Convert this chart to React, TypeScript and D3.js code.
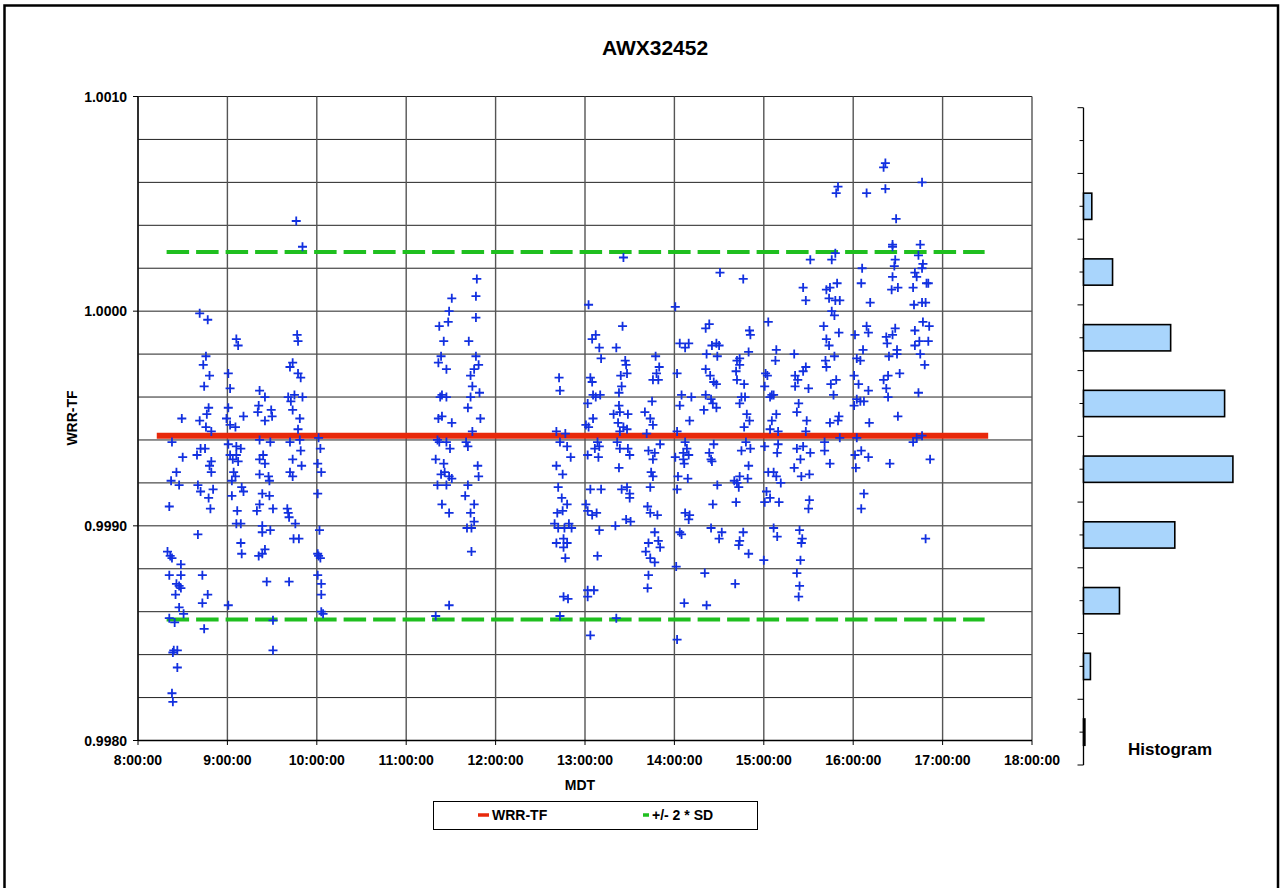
import React from "react";
import * as d3 from "d3";

// ---- Data -----------------------------------------------------------------
// Measurement times (decimal hours, MDT) and WRR-TF ratios, one pair of arrays per session.
const morningTimes = [
  8.35, 8.43, 8.37, 8.46, 8.67, 8.33, 8.36, 8.38, 8.48, 8.35, 8.48, 8.43, 8.46, 8.48, 8.42, 8.46,
  8.51, 8.35, 8.41, 8.40, 8.44, 8.39, 8.44, 8.38, 8.39, 8.72, 8.78, 8.72, 8.74, 9.01, 9.15, 9.16,
  9.35, 9.39, 9.42, 9.44, 9.69, 9.51, 9.51, 10.02, 10.01, 10.04, 10.01, 10.05, 10.05, 10.05, 10.07,
  10.03, 10.01, 8.82, 8.67, 8.70, 8.84, 8.79, 8.81, 9.07, 9.09, 9.05, 9.16, 9.18, 9.05, 9.11, 9.10,
  9.15, 9.36, 9.46, 9.47, 9.39, 9.47, 9.36, 9.51, 9.33, 9.39, 9.39, 9.48, 9.70, 9.73, 9.67, 9.68,
  9.69, 9.76, 9.74, 9.80, 10.05, 9.77, 9.84, 8.69, 8.78, 9.10, 9.12, 9.78, 9.79, 8.76, 8.73, 8.80,
  8.74, 9.01, 9.03, 9.73, 9.70, 9.79, 9.82, 9.36, 9.42, 9.68, 9.75, 9.84, 9.71, 9.73, 9.81, 8.79,
  8.77, 8.69, 8.49, 9.01, 8.99, 9.18, 9.35, 9.34, 9.49, 9.50, 9.42, 8.76, 8.82, 9.03, 9.09, 9.79,
  8.38, 8.70, 8.75, 8.50, 8.66, 8.82, 8.80, 9.01, 9.10, 9.15, 9.03, 9.10, 9.06, 9.12, 9.36, 9.48,
  9.40, 9.36, 9.42, 9.70, 9.81, 9.82, 9.73, 9.83, 10.02, 10.04, 10.01,
];
const morningValues = [
  0.99909, 0.99925, 0.99921, 0.99919, 0.99896, 0.99888, 0.99886, 0.99885, 0.99882, 0.99877, 0.99877,
  0.99873, 0.99872, 0.99871, 0.99868, 0.99862, 0.99859, 0.99857, 0.99855, 0.99842, 0.99842, 0.99841,
  0.99834, 0.99822, 0.99818, 0.99877, 0.99868, 0.99864, 0.99852, 0.99863, 0.99892, 0.99887, 0.99886,
  0.99887, 0.99889, 0.99874, 0.99874, 0.99856, 0.99842, 0.99886, 0.99887, 0.99885, 0.99877, 0.99873,
  0.99868, 0.9986, 0.99859, 0.99898, 0.99915, 0.99925, 0.99919, 0.99916, 0.99917, 0.99913, 0.99908,
  0.99925, 0.99923, 0.99921, 0.99918, 0.99916, 0.99914, 0.99907, 0.99901, 0.99901, 0.99924, 0.99923,
  0.99921, 0.99915, 0.99914, 0.9991, 0.99908, 0.99907, 0.999, 0.99897, 0.99898, 0.99925, 0.99923,
  0.99908, 0.99906, 0.99904, 0.99901, 0.99894, 0.99894, 0.99925, 1.00042, 1.0003, 0.99999, 0.99996,
  0.99987, 0.99984, 0.99989, 0.99986, 0.99979, 0.99975, 0.9997, 0.99965, 0.99971, 0.99964, 0.99976,
  0.99974, 0.99971, 0.99969, 0.99963, 0.9996, 0.9996, 0.99961, 0.9996, 0.99958, 0.99954, 0.9995,
  0.99955, 0.99952, 0.99949, 0.9995, 0.99955, 0.9995, 0.99951, 0.99956, 0.99953, 0.99954, 0.99951,
  0.99949, 0.99946, 0.99944, 0.99947, 0.99946, 0.99945, 0.99939, 0.99936, 0.99936, 0.99932, 0.99933,
  0.9993, 0.99928, 0.99938, 0.99937, 0.99936, 0.99933, 0.99933, 0.99931, 0.9993, 0.9994, 0.99939,
  0.99933, 0.99931, 0.99929, 0.99939, 0.9994, 0.99935, 0.99931, 0.99928, 0.99941, 0.99936, 0.99929,
];

const middayTimes = [
  11.79, 11.78, 11.51, 11.48, 11.47, 11.37, 11.78, 11.42, 11.70, 11.39, 11.36, 11.45, 11.78, 11.81,
  11.76, 11.72, 11.74, 11.82, 11.72, 11.69, 11.83, 11.40, 11.38, 11.45, 11.40, 11.36, 11.51, 11.74,
  11.35, 11.37, 11.45, 11.49, 11.67, 11.69, 11.33, 11.42, 11.80, 11.39, 11.43, 11.48, 11.51, 11.81,
  11.35, 11.45, 11.69, 11.66, 11.40, 11.48, 11.76, 11.72, 11.76, 11.68, 11.73, 11.73, 11.48, 11.33,
];
const middayValues = [
  1.00015, 1.00007, 1.00006, 1.0, 0.99995, 0.99993, 0.99997, 0.99986, 0.99986, 0.99979, 0.99976,
  0.99973, 0.99979, 0.99975, 0.99973, 0.9997, 0.99965, 0.99962, 0.9996, 0.99955, 0.9995, 0.99961,
  0.9996, 0.9996, 0.99951, 0.9995, 0.99948, 0.99944, 0.9994, 0.99939, 0.99939, 0.99936, 0.99939,
  0.99937, 0.99931, 0.99929, 0.99928, 0.99924, 0.99925, 0.99923, 0.99922, 0.99923, 0.99919, 0.99919,
  0.99919, 0.99914, 0.9991, 0.99906, 0.9991, 0.99906, 0.99902, 0.99899, 0.99899, 0.99888, 0.99863,
  0.99858,
];

const afternoonTimes = [
  13.43, 14.51, 14.77, 13.04, 14.01, 13.42, 14.35, 14.39, 14.84, 14.85, 13.08, 13.12, 13.16, 13.35,
  13.18, 14.06, 14.12, 14.16, 14.42, 14.47, 14.50, 14.36, 14.48, 13.79, 14.83, 14.73, 14.70, 14.73,
  13.45, 13.46, 13.47, 13.40, 13.83, 13.80, 13.76, 13.82, 14.03, 14.35, 14.40, 14.44, 14.47, 14.69,
  14.70, 14.78, 12.71, 12.72, 13.06, 13.08, 13.41, 13.38, 13.09, 13.12, 13.17, 13.03, 13.75, 14.08,
  14.19, 14.06, 14.35, 14.41, 14.43, 14.47, 14.33, 14.75, 14.79, 14.73, 13.38, 13.32, 13.39, 13.48,
  13.37, 13.43, 13.47, 13.67, 13.73, 13.76, 14.17, 14.81, 14.84, 14.78, 13.09, 13.01, 13.04, 12.68,
  12.78, 13.39, 13.69, 14.03, 12.72, 12.80, 12.84, 12.68, 12.75, 12.70, 13.14, 13.11, 13.16, 13.03,
  13.15, 13.36, 13.39, 13.48, 13.50, 13.38, 13.84, 13.71, 13.78, 13.76, 13.74, 13.76, 14.12, 14.14,
  14.10, 14.16, 14.10, 14.11, 14.01, 14.04, 14.15, 14.44, 14.39, 14.41, 14.42, 14.75, 14.80, 14.85,
  14.83, 14.73, 14.82, 14.70, 14.67, 14.72, 13.06, 13.18, 13.41, 13.47, 13.50, 13.50, 13.73, 14.03,
  14.48, 14.43, 14.69, 12.74, 12.80, 12.69, 12.75, 13.01, 13.03, 13.08, 13.13, 13.70, 13.73, 13.81,
  14.12, 14.17, 14.16, 13.46, 13.51, 13.34, 13.16, 12.66, 12.70, 12.77, 12.82, 12.85, 12.68, 12.76,
  12.80, 12.76, 12.78, 13.14, 13.78, 13.82, 13.71, 13.84, 13.68, 13.73, 13.78, 14.06, 14.08, 14.41,
  14.53, 14.50, 14.77, 14.73, 14.72, 14.83, 14.02, 13.71, 13.70, 14.34, 14.68, 12.76, 12.81, 13.03,
  13.10, 13.03, 14.11, 14.36, 12.72, 13.35, 13.06, 14.03,
];
const afternoonValues = [
  1.00025, 1.00018, 1.00015, 1.00003, 1.00002, 0.99993, 0.99992, 0.99994, 0.99991, 0.99989, 0.99987,
  0.99989, 0.99983, 0.99983, 0.99978, 0.99985, 0.99983, 0.99985, 0.99984, 0.99985, 0.99984, 0.9998,
  0.99979, 0.99979, 0.99981, 0.99978, 0.99977, 0.99975, 0.99977, 0.99975, 0.99971, 0.9997, 0.99974,
  0.99971, 0.99968, 0.99968, 0.99971, 0.99973, 0.9997, 0.99967, 0.99966, 0.99972, 0.99968, 0.99966,
  0.99969, 0.99963, 0.99969, 0.99967, 0.99965, 0.99962, 0.99961, 0.9996, 0.99961, 0.99957, 0.99958,
  0.99961, 0.9996, 0.99956, 0.99961, 0.99959, 0.99957, 0.99955, 0.99954, 0.9996, 0.9996, 0.99957,
  0.99956, 0.99952, 0.99953, 0.99952, 0.99948, 0.99946, 0.99945, 0.99953, 0.9995, 0.99947, 0.99949,
  0.99952, 0.99949, 0.99946, 0.9995, 0.99947, 0.99946, 0.99944, 0.99943, 0.99944, 0.99943, 0.99944,
  0.99939, 0.99937, 0.99932, 0.99928, 0.99924, 0.99918, 0.99939, 0.99936, 0.99937, 0.99933, 0.99932,
  0.99939, 0.99936, 0.99936, 0.99933, 0.99927, 0.99938, 0.99935, 0.99934, 0.99931, 0.99925, 0.99923,
  0.99939, 0.99936, 0.99934, 0.99933, 0.99931, 0.99929, 0.99932, 0.99923, 0.99922, 0.99938, 0.99934,
  0.99931, 0.9993, 0.99935, 0.99939, 0.99936, 0.99928, 0.99923, 0.99922, 0.9992, 0.99921, 0.99918,
  0.99917, 0.99917, 0.99917, 0.99918, 0.99915, 0.99913, 0.99918, 0.99917, 0.99919, 0.9991, 0.99911,
  0.99913, 0.9991, 0.99906, 0.99907, 0.9991, 0.99907, 0.99905, 0.99906, 0.99909, 0.99906, 0.99905,
  0.99906, 0.99905, 0.99903, 0.99903, 0.99902, 0.999, 0.99898, 0.99901, 0.99899, 0.99899, 0.99901,
  0.99899, 0.99892, 0.99894, 0.99892, 0.9989, 0.99885, 0.99886, 0.99897, 0.99893, 0.99892, 0.9989,
  0.99888, 0.99885, 0.99883, 0.99897, 0.99896, 0.99899, 0.99897, 0.99894, 0.99897, 0.99893, 0.99891,
  0.99887, 0.99881, 0.99877, 0.99871, 0.99878, 0.99873, 0.99867, 0.99866, 0.9987, 0.9987, 0.99867,
  0.99864, 0.99863, 0.99858, 0.99857, 0.99849, 0.99847,
];

const lateTimes = [
  16.36, 16.34, 16.77, 15.83, 15.81, 16.15, 16.36, 16.48, 16.44, 16.44, 16.75, 15.80, 15.76, 15.52,
  16.73, 16.47, 16.46, 16.10, 16.78, 16.77, 16.69, 16.44, 16.09, 16.71, 16.82, 16.84, 15.44, 15.47,
  15.70, 15.74, 15.82, 16.43, 16.50, 16.67, 15.73, 15.80, 15.85, 16.19, 16.68, 16.77, 16.81, 15.76,
  15.79, 15.05, 15.67, 15.84, 16.02, 16.15, 16.17, 16.47, 16.37, 16.44, 16.69, 16.78, 16.85, 15.70,
  15.73, 16.38, 16.49, 16.49, 16.69, 16.74, 16.84, 15.14, 15.13, 15.34, 15.79, 15.69, 15.70, 16.11,
  16.04, 16.08, 16.40, 16.75, 16.80, 15.47, 15.44, 15.02, 15.04, 15.01, 15.35, 15.38, 15.35, 15.50,
  15.81, 15.75, 15.78, 16.01, 16.06, 16.39, 16.52, 16.34, 16.37, 16.39, 16.17, 16.73, 15.09, 15.07,
  15.11, 16.04, 16.08, 16.12, 16.01, 15.39, 15.37, 15.14, 15.09, 15.48, 15.84, 15.83, 15.74, 16.18,
  16.50, 15.07, 15.16, 15.47, 15.01, 15.16, 15.15, 15.37, 15.44, 15.52, 15.68, 15.68, 16.04, 15.85,
  16.02, 16.09, 16.17, 16.67, 16.71, 16.77, 16.86, 16.41, 15.74, 16.03, 15.41, 15.34, 15.42, 15.51,
  15.05, 15.11, 15.14, 15.19, 15.03, 15.07, 15.01, 15.17, 15.51, 15.50, 16.12, 16.09, 15.11, 15.15,
  15.40, 15.43, 15.42, 16.81, 15.00, 15.41, 15.37, 15.40, 15.39,
];
const lateValues = [
  1.00069, 1.00067, 1.0006, 1.00058, 1.00055, 1.00055, 1.00057, 1.00043, 1.00031, 1.0003, 1.00031,
  1.00027, 1.00024, 1.00024, 1.00026, 1.00024, 1.00021, 1.0002, 1.00022, 1.0002, 1.00018, 1.00016,
  1.00013, 1.00016, 1.00013, 1.00013, 1.00011, 1.00005, 1.0001, 1.00011, 1.00013, 1.0001, 1.00011,
  1.00011, 1.00006, 1.00005, 1.00005, 1.00004, 1.00003, 1.00004, 1.00004, 1.0, 0.99998, 0.99995,
  0.99993, 0.9999, 0.99989, 0.99993, 0.9999, 0.99992, 0.99988, 0.99989, 0.99991, 0.99995, 0.99993,
  0.99987, 0.99984, 0.99985, 0.99982, 0.9998, 0.99984, 0.99986, 0.99986, 0.99982, 0.99977, 0.9998,
  0.99979, 0.99977, 0.99974, 0.99982, 0.99978, 0.99977, 0.99979, 0.9998, 0.99975, 0.99974, 0.99972,
  0.99971, 0.9997, 0.99965, 0.9997, 0.99968, 0.99965, 0.99964, 0.99968, 0.99966, 0.99961, 0.9997,
  0.99966, 0.9997, 0.99971, 0.99968, 0.99964, 0.9996, 0.99963, 0.99962, 0.99961, 0.9996, 0.99961,
  0.99959, 0.99958, 0.99958, 0.99956, 0.99957, 0.99953, 0.99952, 0.99949, 0.99949, 0.99951, 0.99949,
  0.99948, 0.99948, 0.99951, 0.99945, 0.99944, 0.99944, 0.99937, 0.99938, 0.99934, 0.99936, 0.99937,
  0.99934, 0.99939, 0.99935, 0.99941, 0.99941, 0.99933, 0.99935, 0.99932, 0.99939, 0.99941, 0.99942,
  0.99931, 0.99929, 0.99929, 0.99927, 0.99931, 0.99927, 0.99923, 0.99924, 0.99925, 0.99925, 0.99923,
  0.9992, 0.99916, 0.99913, 0.99911, 0.99911, 0.99912, 0.99908, 0.99915, 0.99908, 0.99899, 0.99895,
  0.99898, 0.99894, 0.99892, 0.99894, 0.99884, 0.99884, 0.99878, 0.99872, 0.99867,
];

// Mean ratio and the +/- 2 SD control band
const meanValue = 0.99942;
const twoSd = 0.000856;
const meanSpan = [8.21, 17.51];
const bandSpan = [8.32, 17.47];

// Histogram of the ratios (bins from high to low)
const histBins = ["b1", "b2", "b3", "b4", "b5", "b6", "b7", "b8", "b9", "b10"];
const histCounts = [0, 6, 21, 63, 102, 108, 66, 26, 5, 1];

// Axes
const xTickHours = [8, 9, 10, 11, 12, 13, 14, 15, 16, 17, 18];
const yTickValues = [0.998, 0.999, 1.0, 1.001];
const legendItems = [
  { label: "WRR-TF", color: "#e8290b" },
  { label: "+/- 2 * SD", color: "#1fbf1f" },
];

const FONT = "'Liberation Sans', Arial, Helvetica, sans-serif";

export default function App() {
  const x = d3.scaleLinear().domain([8, 18]).range([138, 1032]);
  const y = d3.scaleLinear().domain([0.998, 1.001]).range([740.5, 96.5]);

  const points = [
    ...morningTimes.map((t, i) => [t, morningValues[i]]),
    ...middayTimes.map((t, i) => [t, middayValues[i]]),
    ...afternoonTimes.map((t, i) => [t, afternoonValues[i]]),
    ...lateTimes.map((t, i) => [t, lateValues[i]]),
  ];

  const hGrid = d3.range(0, 16).map((i) => 0.998 + i * 0.0002);
  const line = d3.line<number[]>().x((d) => x(d[0])).y((d) => y(d[1]));

  // histogram scales
  const hy = d3.scaleBand<string>().domain(histBins).range([107.7, 765]).paddingInner(0.6).paddingOuter(0.3);
  const hx = d3.scaleLinear().domain([0, 120]).range([1083.5, 1249.5]);
  const step = hy.step();
  const bandStart = hy(histBins[0])! - hy.paddingOuter() * step;
  const majorTicks = d3.range(0, histBins.length + 1).map((i) => bandStart + i * step);

  const fmtY = d3.format(".4f");

  return (
    <svg
      width={1281}
      height={888}
      style={{ position: "absolute", left: 0, top: 0, background: "#fff" }}
      fontFamily={FONT}
    >
      <rect x={0} y={0} width={1281} height={888} fill="#fff" />
      <rect x={4.5} y={5.5} width={1273.5} height={900} fill="none" stroke="#000" strokeWidth={2.5} />

      <text x={655} y={54.5} textAnchor="middle" fontSize={21} fontWeight="bold">
        {"AWX32452"}
      </text>

      {/* grid */}
      <g stroke="#222" strokeWidth={1}>
        {hGrid.map((v, i) => (
          <line key={"h" + i} x1={138} x2={1032} y1={y(v)} y2={y(v)} />
        ))}
        {xTickHours.map((h) => (
          <line key={"v" + h} x1={x(h)} x2={x(h)} y1={96.5} y2={740.5} stroke="#555" strokeWidth={1.4} />
        ))}
      </g>

      {/* axes */}
      <line x1={138} x2={138} y1={96.5} y2={740.5} stroke="#000" strokeWidth={1.3} />
      <line x1={138} x2={1032} y1={740.5} y2={740.5} stroke="#000" strokeWidth={1.3} />
      {yTickValues.map((v) => (
        <g key={"yt" + v}>
          <line x1={133} x2={138} y1={y(v)} y2={y(v)} stroke="#000" />
          <text x={127} y={y(v)} dy="0.36em" textAnchor="end" fontSize={14} fontWeight="bold">
            {fmtY(v)}
          </text>
        </g>
      ))}
      {xTickHours.map((h) => (
        <g key={"xt" + h}>
          <line x1={x(h)} x2={x(h)} y1={740.5} y2={745} stroke="#000" />
          <text x={x(h)} y={765} textAnchor="middle" fontSize={14} fontWeight="bold">
            {`${h}:00:00`}
          </text>
        </g>
      ))}
      <text x={580} y={790} textAnchor="middle" fontSize={14} fontWeight="bold">
        MDT
      </text>
      <text
        transform="translate(77,418) rotate(-90)"
        textAnchor="middle"
        fontSize={14}
        fontWeight="bold"
      >
        WRR-TF
      </text>

      {/* mean and control band */}
      <path
        d={line([[meanSpan[0], meanValue], [meanSpan[1], meanValue]])!}
        stroke="#e8290b"
        strokeWidth={6}
        fill="none"
      />
      {[meanValue + twoSd, meanValue - twoSd].map((v, i) => (
        <path
          key={"sd" + i}
          d={line([[bandSpan[0], v], [bandSpan[1], v]])!}
          stroke="#1fbf1f"
          strokeWidth={4}
          strokeDasharray="22.5 7"
          fill="none"
        />
      ))}

      {/* data markers */}
      <g stroke="#1230e0" strokeWidth={1.8} fill="none">
        {points.map((p, i) => (
          <path key={i} d="M-4.5,0H4.5M0,-4.5V4.5" transform={`translate(${x(p[0])},${y(p[1])})`} />
        ))}
      </g>

      {/* histogram */}
      <g>
        <line x1={1083.5} x2={1083.5} y1={majorTicks[0]} y2={majorTicks[majorTicks.length - 1]} stroke="#000" strokeWidth={1.3} />
        {majorTicks.map((t, i) => (
          <line key={"hm" + i} x1={1077.5} x2={1083.5} y1={t} y2={t} stroke="#000" />
        ))}
        {histBins.map((b) => (
          <line
            key={"hn" + b}
            x1={1079.5}
            x2={1083.5}
            y1={hy(b)! + hy.bandwidth() / 2}
            y2={hy(b)! + hy.bandwidth() / 2}
            stroke="#000"
          />
        ))}
        {histBins.map((b, i) =>
          histCounts[i] > 0 ? (
            <rect
              key={"hb" + b}
              x={hx(0)}
              y={hy(b)}
              width={hx(histCounts[i]) - hx(0)}
              height={hy.bandwidth()}
              fill="#a9d5fc"
              stroke="#000"
              strokeWidth={1.6}
            />
          ) : null
        )}
        <text x={1170} y={755} textAnchor="middle" fontSize={17} fontWeight="bold">
          Histogram
        </text>
      </g>

      {/* legend */}
      <g>
        <rect x={433.5} y={801.5} width={324} height={28} fill="#fff" stroke="#000" strokeWidth={1} />
        {legendItems.map((it, i) => {
          const lx = i === 0 ? 478 : 643;
          const lw = i === 0 ? 11 : 6;
          return (
            <g key={it.label}>
              <line x1={lx} x2={lx + lw} y1={815} y2={815} stroke={it.color} strokeWidth={3.5} />
              <text x={lx + lw + 3} y={820} fontSize={14} fontWeight="bold">
                {it.label}
              </text>
            </g>
          );
        })}
      </g>
    </svg>
  );
}
